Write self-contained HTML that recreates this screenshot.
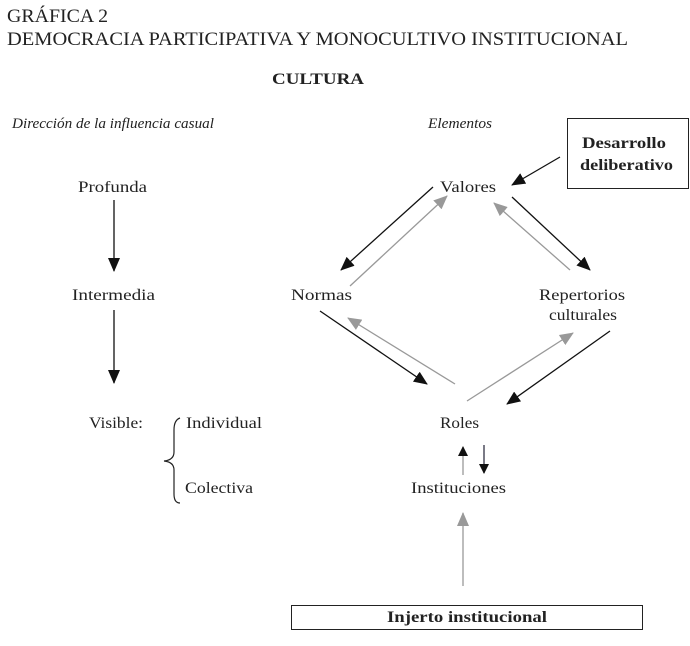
<!DOCTYPE html>
<html><head><meta charset="utf-8"><style>
html,body{margin:0;padding:0;background:#fff;}
svg{display:block;font-family:"Liberation Serif",serif;}
</style></head><body>
<svg width="690" height="646" viewBox="0 0 690 646" xmlns="http://www.w3.org/2000/svg">
<defs>
<marker id="b" markerWidth="10" markerHeight="10" refX="9" refY="5" orient="auto" markerUnits="userSpaceOnUse"><path d="M0,0 L10,5 L0,10 Z" fill="#111"/></marker>
<marker id="bb" markerWidth="14" markerHeight="12" refX="13" refY="6" orient="auto" markerUnits="userSpaceOnUse"><path d="M0,0 L14,6 L0,12 Z" fill="#111"/></marker>
<marker id="g" markerWidth="14" markerHeight="12" refX="13" refY="6" orient="auto" markerUnits="userSpaceOnUse"><path d="M0,0 L14,6 L0,12 Z" fill="#999"/></marker>
</defs>
<g fill="#222">
<text x="7" y="22" font-size="19" textLength="101" lengthAdjust="spacingAndGlyphs">GRÁFICA 2</text>
<text x="7" y="45" font-size="19" textLength="621" lengthAdjust="spacingAndGlyphs">DEMOCRACIA PARTICIPATIVA Y MONOCULTIVO INSTITUCIONAL</text>
<text x="272" y="84" font-size="16" font-weight="bold" textLength="92" lengthAdjust="spacingAndGlyphs">CULTURA</text>
<text x="12" y="128" font-size="15" font-style="italic" textLength="202" lengthAdjust="spacingAndGlyphs">Dirección de la influencia casual</text>
<text x="428" y="128" font-size="15" font-style="italic" textLength="64" lengthAdjust="spacingAndGlyphs">Elementos</text>
<text x="78" y="192" font-size="16" textLength="69" lengthAdjust="spacingAndGlyphs">Profunda</text>
<text x="72" y="300" font-size="16" textLength="83" lengthAdjust="spacingAndGlyphs">Intermedia</text>
<text x="89" y="428" font-size="16" textLength="54" lengthAdjust="spacingAndGlyphs">Visible:</text>
<text x="186" y="428" font-size="16" textLength="76" lengthAdjust="spacingAndGlyphs">Individual</text>
<text x="185" y="493" font-size="16" textLength="68" lengthAdjust="spacingAndGlyphs">Colectiva</text>
<text x="440" y="192" font-size="16" textLength="56" lengthAdjust="spacingAndGlyphs">Valores</text>
<text x="291" y="300" font-size="16" textLength="61" lengthAdjust="spacingAndGlyphs">Normas</text>
<text x="539" y="300" font-size="16" textLength="86" lengthAdjust="spacingAndGlyphs">Repertorios</text>
<text x="549" y="320" font-size="16" textLength="68" lengthAdjust="spacingAndGlyphs">culturales</text>
<text x="440" y="428" font-size="16" textLength="39" lengthAdjust="spacingAndGlyphs">Roles</text>
<text x="411" y="493" font-size="16" textLength="95" lengthAdjust="spacingAndGlyphs">Instituciones</text>
<text x="582" y="148" font-size="16" font-weight="bold" textLength="84" lengthAdjust="spacingAndGlyphs">Desarrollo</text>
<text x="580" y="170" font-size="16" font-weight="bold" textLength="93" lengthAdjust="spacingAndGlyphs">deliberativo</text>
<text x="387" y="622" font-size="16" font-weight="bold" textLength="160" lengthAdjust="spacingAndGlyphs">Injerto institucional</text>
</g>
<rect x="567.5" y="118.5" width="121" height="70" fill="none" stroke="#222"/>
<rect x="291.5" y="605.5" width="351" height="24" fill="none" stroke="#222"/>
<path d="M180,418 Q174,420 174,430 L174,452 Q174,460 164,461 Q174,462 174,470 L174,494 Q174,503 180,503" fill="none" stroke="#222" stroke-width="1.2"/>
<g stroke-width="1.3" fill="none">
<line x1="114" y1="200" x2="114" y2="271" stroke="#111" marker-end="url(#bb)"/>
<line x1="114" y1="310" x2="114" y2="383" stroke="#111" marker-end="url(#bb)"/>
<line x1="560" y1="157" x2="512" y2="185" stroke="#111" marker-end="url(#bb)"/>
<line x1="433" y1="187" x2="341" y2="270" stroke="#111" marker-end="url(#bb)"/>
<line x1="350" y1="286" x2="447" y2="196" stroke="#999" marker-end="url(#g)"/>
<line x1="512" y1="197" x2="590" y2="270" stroke="#111" marker-end="url(#bb)"/>
<line x1="570" y1="270" x2="494" y2="203" stroke="#999" marker-end="url(#g)"/>
<line x1="320" y1="311" x2="427" y2="384" stroke="#111" marker-end="url(#bb)"/>
<line x1="455" y1="384" x2="348" y2="318" stroke="#999" marker-end="url(#g)"/>
<line x1="467" y1="401" x2="573" y2="333" stroke="#999" marker-end="url(#g)"/>
<line x1="610" y1="331" x2="507" y2="404" stroke="#111" marker-end="url(#bb)"/>
<line x1="463" y1="475" x2="463" y2="447" stroke="#999" marker-end="url(#b)"/>
<line x1="484" y1="445" x2="484" y2="473" stroke="#334" marker-end="url(#b)"/>
<line x1="463" y1="586" x2="463" y2="513" stroke="#999" marker-end="url(#g)"/>
</g>
</svg>
</body></html>
